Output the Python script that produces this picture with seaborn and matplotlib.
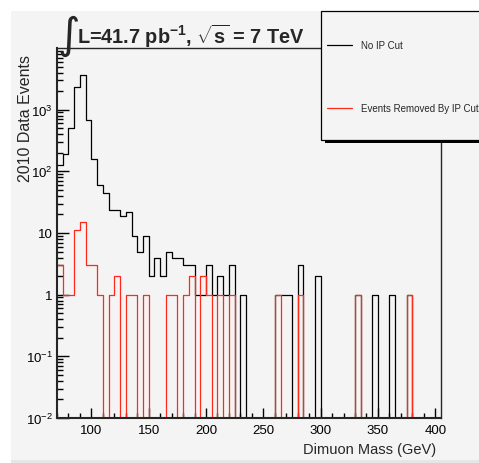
import numpy as np
import pandas as pd
import matplotlib
matplotlib.use("Agg")
import matplotlib.pyplot as plt
import matplotlib.ticker as mticker
from matplotlib.patches import Rectangle
from matplotlib.lines import Line2D
import seaborn as sns

# dimuon mass bins, 5 GeV wide, lower edges 70..400
bin_low = list(range(70, 405, 5))
bin_width = 5

# event counts per bin
no_ip_cut = [126, 191, 505, 2340, 3650, 680, 158, 61, 45, 24,
             24, 19, 22, 9, 5, 9, 2, 4, 2, 5,
             4, 4, 3, 3, 1, 1, 3, 1, 2, 1,
             3, 0, 1, 0, 0, 0, 0, 0, 1, 1,
             1, 0, 3, 0, 0, 2, 0, 0, 0, 0,
             0, 0, 1, 0, 0, 1, 0, 0, 1, 0,
             0, 1, 0, 0, 0, 0, 0]
removed_by_ip = [3, 1, 1, 11, 15, 3, 3, 1, 0, 1,
                 2, 0, 1, 1, 0, 1, 0, 0, 0, 1,
                 1, 0, 1, 2, 0, 2, 1, 0, 1, 0,
                 1, 0, 0, 0, 0, 0, 0, 0, 1, 0,
                 0, 0, 1, 0, 0, 0, 0, 0, 0, 0,
                 0, 0, 1, 0, 0, 0, 0, 0, 0, 0,
                 0, 1, 0, 0, 0, 0, 0]

series_labels = ["No IP Cut", "Events Removed By IP Cut"]
y_tick_values = [1e-2, 1e-1, 1, 10, 1e2, 1e3]
y_tick_labels = ["10$^{-2}$", "10$^{-1}$", "1", "10", "10$^{2}$", "10$^{3}$"]

edges = [float(b) for b in bin_low] + [float(bin_low[-1] + bin_width)]
centers = [b + bin_width / 2 for b in bin_low]
df = pd.DataFrame({"mass": centers, "no_cut": no_ip_cut, "removed": removed_by_ip})

sns.set_style("ticks")
plt.rcParams["font.family"] = ["Liberation Sans", "DejaVu Sans"]
plt.rcParams["mathtext.fontset"] = "custom"
plt.rcParams["mathtext.rm"] = "Liberation Sans"
plt.rcParams["mathtext.bf"] = "Liberation Sans:bold"

W, H = 479, 464
grey = "#f4f4f4"
red = "#ff2a1a"
fig = plt.figure(figsize=(W / 100, H / 100), dpi=100, facecolor="white")

def px(x0, y0, x1, y1):
    # pixel box (from top-left) -> figure fraction rect
    return [x0 / W, 1 - y1 / H, (x1 - x0) / W, (y1 - y0) / H]

# canvas background
r = px(11, 12, 479, 461)
fig.add_artist(Rectangle((r[0], r[1]), r[2], r[3], transform=fig.transFigure,
                         facecolor=grey, edgecolor="none", zorder=-2))
r = px(11, 461, 479, 464)
fig.add_artist(Rectangle((r[0], r[1]), r[2], r[3], transform=fig.transFigure,
                         facecolor="#e6e6e6", edgecolor="none", zorder=-2))

ax = fig.add_axes(px(57, 49, 441, 419))
ax.set_facecolor(grey)

sns.histplot(data=df, x="mass", weights="no_cut", bins=edges, element="step",
             fill=False, color="black", linewidth=0.9, ax=ax, label=series_labels[0])
sns.histplot(data=df, x="mass", weights="removed", bins=edges, element="step",
             fill=False, color=red, linewidth=0.9, ax=ax, label=series_labels[1])

ax.set_yscale("log")
ax.set_ylim(1e-2, 1e4)
ax.set_xlim(70, 405)

ax.xaxis.set_major_locator(mticker.MultipleLocator(50))
ax.xaxis.set_minor_locator(mticker.MultipleLocator(10))
ax.set_yticks(y_tick_values, y_tick_labels)
ax.yaxis.set_minor_locator(mticker.LogLocator(base=10, subs=np.arange(2, 10), numticks=20))
ax.yaxis.set_minor_formatter(mticker.NullFormatter())

ax.tick_params(axis="both", which="both", direction="in", colors="black",
               labelsize=9.5, top=False, right=False)
ax.tick_params(axis="x", which="major", length=7.2, width=1.0, pad=4)
ax.tick_params(axis="x", which="minor", length=3.6, width=1.0)
ax.tick_params(axis="y", which="major", length=8.5, width=1.0, pad=3)
ax.tick_params(axis="y", which="minor", length=4.3, width=1.0)

for side in ["left", "bottom"]:
    ax.spines[side].set_linewidth(1.5)
for side in ["top", "right"]:
    ax.spines[side].set_linewidth(1.0)

ax.set_xlabel("Dimuon Mass (GeV)", loc="right", fontsize=10.5)
ax.xaxis.set_label_coords(0.987, -0.066)
ax.set_ylabel("2010 Data Events", loc="top", fontsize=11.5)
ax.yaxis.set_label_coords(-0.062, 0.985)

# title
fig.text(57 / W, 1 - 57 / H, "\u222b", family="DejaVu Sans", fontsize=31,
         ha="left", va="bottom")
fig.text(77 / W, 1 - 43.5 / H,
         r"L=41.7 pb$^{\mathbf{-1}}$, $\sqrt{\mathbf{s}}$ = 7 TeV",
         fontsize=14.3, fontweight="bold", ha="left", va="baseline")

# legend box with shadow
r = px(325, 16, 489, 144)
fig.add_artist(Rectangle((r[0], r[1]), r[2], r[3], transform=fig.transFigure,
                         facecolor="black", edgecolor="none", zorder=3))
r = px(321, 12, 485, 141)
fig.add_artist(Rectangle((r[0], r[1]), r[2], r[3], transform=fig.transFigure,
                         facecolor=grey, edgecolor="black", linewidth=0.9, zorder=3.5))

handles = [Line2D([], [], color="black", linewidth=0.9),
           Line2D([], [], color=red, linewidth=0.9)]
fig.legend(handles, series_labels, loc="upper left",
           bbox_to_anchor=(327 / W, 1 - 41 / H), bbox_transform=fig.transFigure,
           frameon=False, fontsize=7, borderpad=0, borderaxespad=0,
           labelspacing=5.45, handlelength=2.6, handletextpad=0.9).set_zorder(5)

fig.savefig("out.png", dpi=100, facecolor=fig.get_facecolor())
